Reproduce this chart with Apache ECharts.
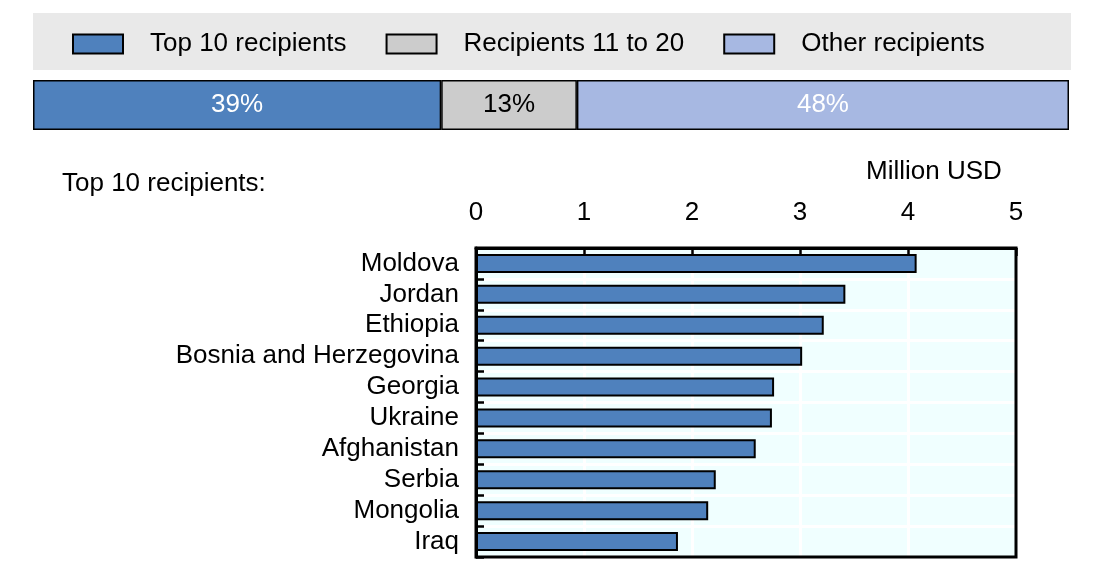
<!DOCTYPE html>
<html>
<head>
<meta charset="utf-8">
<script src="https://cdn.jsdelivr.net/npm/echarts@6/dist/echarts.min.js"></script>
<style>
  html, body { margin: 0; padding: 0; background: #fff; }
  #chart { width: 1106px; height: 576px; }
</style>
</head>
<body>
<div id="chart"></div>
<script>
// share of total
const shareNames = ['Top 10 recipients', 'Recipients 11 to 20', 'Other recipients'];
const shareValues = [39.4, 13.1, 47.5];
const shareColors = ['#4f81bd', '#cccccc', '#a7b8e2'];
const shareLabelColors = ['#ffffff', '#000000', '#ffffff'];

// top 10 recipients, million USD
const countries = ['Moldova', 'Jordan', 'Ethiopia', 'Bosnia and Herzegovina', 'Georgia',
  'Ukraine', 'Afghanistan', 'Serbia', 'Mongolia', 'Iraq'];
const amounts = [4.08, 3.42, 3.22, 3.02, 2.76, 2.74, 2.59, 2.22, 2.15, 1.87];
const xTicks = [0, 1, 2, 3, 4, 5];

const FONT = '"Liberation Sans", Arial, sans-serif';

// plot box of the lower chart
const plot = { left: 476, top: 248, width: 540, height: 309 };

const chart = echarts.init(document.getElementById('chart'));

const shareSeries = shareNames.map((name, i) => ({
  name,
  type: 'bar',
  stack: 'share',
  xAxisIndex: 0,
  yAxisIndex: 0,
  barWidth: '100%',
  data: [shareValues[i]],
  itemStyle: { color: shareColors[i], borderColor: '#000', borderWidth: 1.5 },
  label: {
    show: true,
    position: 'inside',
    formatter: (p) => Math.round(p.value) + '%',
    color: shareLabelColors[i],
    fontFamily: FONT,
    fontSize: 26,
  },
  emphasis: { disabled: true },
}));

const option = {
  animation: false,
  textStyle: { fontFamily: FONT },
  graphic: [
    {
      type: 'rect',
      shape: { x: 33, y: 13, width: 1038, height: 57 },
      style: { fill: '#e9e9e9' },
      z: -10,
    },
    {
      // frame drawn over the white grid lines
      type: 'rect',
      shape: { x: plot.left, y: plot.top, width: plot.width, height: plot.height },
      style: { fill: null, stroke: '#000', lineWidth: 3 },
      z: 100,
    },
  ],
  title: [
    {
      text: 'Top 10 recipients:',
      left: 62,
      top: 171,
      padding: 0,
      textStyle: { fontFamily: FONT, fontSize: 26, fontWeight: 'normal', color: '#000' },
    },
    {
      text: 'Million USD',
      left: 866,
      top: 159,
      padding: 0,
      textStyle: { fontFamily: FONT, fontSize: 26, fontWeight: 'normal', color: '#000' },
    },
  ],
  legend: {
    data: shareNames,
    left: 72,
    top: 31,
    padding: 0,
    itemWidth: 50,
    itemHeight: 19,
    itemGap: 39,
    icon: 'rect',
    selectedMode: false,
    textStyle: { fontFamily: FONT, fontSize: 26, color: '#000', padding: [0, 0, 0, 22] },
  },
  grid: [
    { left: 33, top: 80, width: 1036, height: 50 },
    { ...plot, show: true, backgroundColor: '#f0ffff', borderWidth: 0 },
  ],
  xAxis: [
    { gridIndex: 0, type: 'value', min: 0, max: 100, show: false },
    {
      gridIndex: 1,
      type: 'value',
      position: 'top',
      min: 0,
      max: 5,
      interval: 1,
      axisLine: { show: true, lineStyle: { color: '#000', width: 3 } },
      axisTick: { show: true, inside: true, length: 8, lineStyle: { color: '#000', width: 2.5 } },
      axisLabel: {
        margin: 22,
        fontFamily: FONT,
        fontSize: 26,
        color: '#000',
        formatter: (v) => (xTicks.includes(v) ? String(v) : ''),
      },
      splitLine: {
        show: true,
        showMinLine: false,
        showMaxLine: false,
        lineStyle: { color: '#ffffff', width: 3 },
      },
    },
  ],
  yAxis: [
    { gridIndex: 0, type: 'category', data: [''], show: false },
    {
      gridIndex: 1,
      type: 'category',
      inverse: true,
      data: countries,
      axisLine: { show: true, lineStyle: { color: '#000', width: 3 } },
      axisTick: { show: true, interval: 0, inside: true, length: 8, lineStyle: { color: '#000', width: 2.5 } },
      axisLabel: { interval: 0, margin: 17, fontFamily: FONT, fontSize: 26, color: '#000' },
      splitLine: {
        show: true,
        interval: 0,
        showMinLine: false,
        showMaxLine: false,
        lineStyle: { color: '#ffffff', width: 3 },
      },
    },
  ],
  series: [
    ...shareSeries,
    {
      name: 'Top 10 amounts',
      type: 'bar',
      xAxisIndex: 1,
      yAxisIndex: 1,
      barWidth: 19,
      data: amounts,
      itemStyle: { color: '#4f81bd', borderColor: '#000', borderWidth: 2 },
      emphasis: { disabled: true },
    },
  ],
};

chart.setOption(option);
</script>
</body>
</html>
